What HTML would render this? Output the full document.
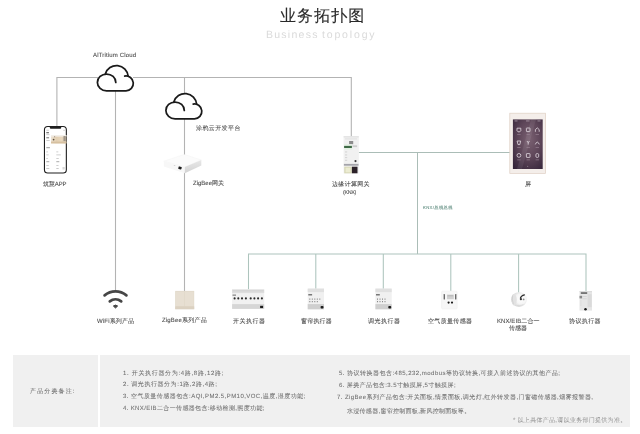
<!DOCTYPE html>
<html><head><meta charset="utf-8">
<style>
html,body{margin:0;padding:0;background:#fff;}
body{width:640px;height:434px;position:relative;overflow:hidden;font-family:"Liberation Sans",sans-serif;color:#333;}
.t{position:absolute;white-space:nowrap;line-height:1;will-change:transform;text-rendering:geometricPrecision;}
.lb{-webkit-text-stroke:0.08px #4a4a4a;}
.note{-webkit-text-stroke:0.05px #6c6c6c;}
svg.g{position:absolute;left:0;top:0;}
.lb{font-size:6px;color:#4a4a4a;}
.panel{position:absolute;top:355px;height:71.5px;background:#f0f0f0;}
.note{font-size:6px;color:#6c6c6c;}
</style></head>
<body>
<svg class="g" width="640" height="434" viewBox="0 0 640 434">
 <defs>

  <linearGradient id="scr" x1="0" y1="0" x2="1" y2="1">
   <stop offset="0" stop-color="#4a3447"/><stop offset="0.5" stop-color="#6a4f64"/><stop offset="1" stop-color="#3b2a3a"/>
  </linearGradient>
  <linearGradient id="gwside" x1="0" y1="0" x2="0" y2="1">
   <stop offset="0" stop-color="#e8e8e8"/><stop offset="1" stop-color="#d2d2d2"/>
  </linearGradient>
 </defs>
 <!-- gray lines -->
 <g stroke="#b3b3b3" stroke-width="1.1" fill="none">
  <path d="M56.9 126 V77.5 H351.3 V137"/>
  <path d="M115.5 82 V290"/>
  <path d="M184.5 77.5 V155"/>
  <path d="M184.5 172.5 V291"/>
 </g>
 <!-- green lines -->
 <g stroke="#abbdb7" stroke-width="1.05" fill="none">
  <path d="M358.8 152.5 H510"/>
  <path d="M417.5 152.5 V254"/>
 </g>
 <g stroke="#adc4bd" stroke-width="1.05" fill="none">
  <path d="M248.5 289.5 V253.9 H586 V291"/>
  <path d="M315.8 253.9 V289"/>
  <path d="M383.3 253.9 V289"/>
  <path d="M450.8 253.9 V291"/>
  <path d="M518.6 253.9 V292.5"/>
 </g>
 <!-- clouds -->
 <rect x="98" y="66" width="35" height="24" fill="#fff"/>
 <g transform="translate(96.5 64)" fill="none" stroke="#1a1a1a" stroke-width="1.75" stroke-linecap="round" stroke-linejoin="round">
   <path d="M28.2 12.1 A7.4 7.4 0 1 1 29.5 26.8 H10.1 A9.2 8.4 0 1 1 19.3 18.4"/>
   <path d="M8.8 10 A11.7 11.7 0 0 1 31.7 12.3"/>
  </g>
 <rect x="166" y="94" width="35" height="24" fill="#fff"/>
 <g transform="translate(165 92)" fill="none" stroke="#1a1a1a" stroke-width="1.75" stroke-linecap="round" stroke-linejoin="round">
   <path d="M28.2 12.1 A7.4 7.4 0 1 1 29.5 26.8 H10.1 A9.2 8.4 0 1 1 19.3 18.4"/>
   <path d="M8.8 10 A11.7 11.7 0 0 1 31.7 12.3"/>
  </g>

 <!-- phone -->
 <rect x="44.45" y="126.45" width="21.9" height="46.5" rx="3.3" fill="#fff" stroke="#1e1e1e" stroke-width="1.1"/>
 <path d="M49.8 126.4 H61.2 V127.8 Q61.2 128.8 60.2 128.8 H50.8 Q49.8 128.8 49.8 127.8Z" fill="#1e1e1e"/>
 <g fill="#c4c4c4">
  <rect x="46.3" y="129.8" width="2.5" height="0.8"/>
  <rect x="63.2" y="129.8" width="1.8" height="0.8"/>
  <rect x="46.3" y="132" width="2.6" height="1.3" fill="#777"/>
  <rect x="46.3" y="134.3" width="3.2" height="0.8"/>
  <rect x="46.3" y="137" width="2.8" height="1.4" fill="#9a9a9a"/>
  <rect x="46.3" y="140" width="3.4" height="0.8"/>
  <rect x="46.3" y="147.2" width="3.6" height="1" fill="#999"/>
  <rect x="46.3" y="151.5" width="1.6" height="0.8"/>
  <rect x="56.3" y="151.5" width="2" height="0.8"/>
  <rect x="46.3" y="154.5" width="2.4" height="0.8"/>
  <rect x="56.3" y="154.5" width="4.5" height="0.8"/>
  <rect x="46.3" y="158" width="1.6" height="0.8"/>
  <rect x="56.3" y="158.2" width="2.5" height="0.8"/>
  <rect x="46.3" y="161.2" width="3" height="1" fill="#aaa"/>
  <rect x="56.3" y="161.2" width="3" height="1" fill="#aaa"/>
  <rect x="46.3" y="165" width="2.5" height="0.8"/>
  <rect x="56.3" y="165" width="2.2" height="0.8"/>
  <rect x="46.3" y="168" width="3" height="0.9"/>
  <rect x="56.3" y="168" width="2.4" height="0.9"/>
  <rect x="62.5" y="167" width="2.2" height="2.5" fill="#d8d8d8"/>
 </g>
 <defs><linearGradient id="photo" x1="0" y1="0" x2="1" y2="0">
  <stop offset="0" stop-color="#ece2d3"/><stop offset="0.35" stop-color="#e2cfb2"/><stop offset="0.7" stop-color="#e8d7bd"/><stop offset="1" stop-color="#c9bca8"/>
 </linearGradient></defs>
 <rect x="51" y="135" width="15.4" height="8.4" fill="url(#photo)"/>
 <rect x="51" y="135" width="15.4" height="1.6" fill="#f3efe9"/>
 <circle cx="53.6" cy="139.6" r="0.9" fill="#5d4d3c"/>
 <circle cx="54.7" cy="136.8" r="0.5" fill="#7a6a58"/>
 <rect x="51" y="141.6" width="15.4" height="1.8" fill="#d6c0a0"/>
 <rect x="63.5" y="136" width="2.2" height="5" fill="#9f9588"/>
 <!-- zigbee gateway -->
 <polygon points="163.8,161.2 184.3,154.4 201.3,160 184.8,167" fill="#fbfbfb" stroke="#f0f0f0" stroke-width="0.4"/>
 <polygon points="163.8,161.2 184.8,167 184.8,173.2 163.8,166.6" fill="#f7f7f7"/>
 <polygon points="184.8,167 201.3,160 201.3,165.6 184.8,173.2" fill="url(#gwside)"/>
 <rect x="178.4" y="166.6" width="3.2" height="2.7" rx="0.6" fill="#1e1e1e" transform="rotate(15 180 168)"/>
 <rect x="173.8" y="165.2" width="1.5" height="0.8" fill="#cfcfcf"/>

 <!-- KNX edge gateway -->
 <rect x="343.6" y="136.2" width="15.2" height="37.2" fill="#f1f1f1"/>
 <rect x="343.6" y="136.2" width="15.2" height="1.2" fill="#e2e2e2"/>
 <rect x="345" y="138.6" width="12" height="0.7" fill="#dadada"/>
 <rect x="349.1" y="141" width="4.1" height="3.2" fill="#8c8c8c"/>
 <rect x="344.2" y="144.3" width="8" height="5.4" fill="#e3efe3"/>
 <rect x="344.1" y="145.9" width="7.8" height="2.1" fill="#3f6a46"/>
 <rect x="352.5" y="145.3" width="4.6" height="1.8" fill="#cdcdcd"/>
 <g fill="#d0d0d0"><rect x="345" y="151.5" width="2.2" height="0.9"/><rect x="345" y="154.5" width="2.2" height="0.9"/><rect x="345" y="157.2" width="2.2" height="0.9"/><rect x="345" y="159.8" width="2.2" height="0.9"/></g>
 <circle cx="355.5" cy="161.1" r="1.1" fill="#3a3a3a"/>
 <rect x="343.9" y="163.9" width="14.6" height="1.8" fill="#a4a4aa"/>
 <rect x="344.3" y="166.7" width="7.4" height="6.6" fill="#d6d6b4"/>
 <rect x="345.5" y="167.6" width="5" height="4.8" fill="#ececd2"/>
 <rect x="351.9" y="166.7" width="5.6" height="6.6" fill="#2b2128"/>
 <!-- screen -->
 <defs><radialGradient id="scr2" cx="0.55" cy="0.4" r="0.75">
  <stop offset="0" stop-color="#7a6172"/><stop offset="0.5" stop-color="#5e4659"/><stop offset="1" stop-color="#35253a"/>
 </radialGradient></defs>
 <rect x="509.8" y="113.2" width="35.8" height="60.2" fill="#f4eeea" stroke="#dfcfc4" stroke-width="0.7"/>
 <rect x="512.9" y="119.4" width="29.8" height="49.6" fill="url(#scr2)"/>
 <polygon points="531,119.4 536,119.4 522,169 517,169" fill="#ffffff" opacity="0.07"/>
 <g fill="#b9a9b6"><rect x="514.5" y="120.6" width="3" height="0.7"/><rect x="526" y="120.6" width="3.5" height="0.7"/><rect x="537.5" y="120.6" width="3" height="0.7"/></g>
 <g fill="none" stroke="#ddd3dc" stroke-width="0.85">
  <path d="M517 128.2 H520.8 V130.8 L519.8 131.8 H518 L517 130.8Z"/>
  <rect x="526.4" y="128" width="3.6" height="3.6" rx="0.4"/>
  <path d="M535.4 131.8 V129.6 L537.3 127.9 L539.2 129.6 V131.8"/>
  <path d="M517.1 141 H520.7 L519.8 144.6 H518Z"/>
  <path d="M527 141 L528.2 142.8 L529.4 141 M528.2 142.8 V144.6"/>
  <path d="M535.3 144.4 Q537.3 139.8 539.3 144.4"/>
  <circle cx="518.9" cy="155.4" r="1.9"/>
  <rect x="526.4" y="153.6" width="3.6" height="3.8" rx="0.4"/>
  <rect x="535.9" y="153.6" width="2.8" height="3.8" rx="1.1"/>
 </g>
 <g fill="#9d8898">
  <rect x="517.2" y="134" width="3.4" height="0.6"/><rect x="526.5" y="134" width="3.4" height="0.6"/><rect x="535.6" y="134" width="3.4" height="0.6"/>
  <rect x="517.2" y="147" width="3.4" height="0.6"/><rect x="526.5" y="147" width="3.4" height="0.6"/><rect x="535.6" y="147" width="3.4" height="0.6"/>
  <rect x="517.2" y="159.6" width="3.4" height="0.6"/><rect x="526.5" y="159.6" width="3.4" height="0.6"/><rect x="535.6" y="159.6" width="3.4" height="0.6"/>
 </g>
 <circle cx="527.7" cy="166.3" r="0.6" fill="#8d7a8a"/>
 <!-- wifi -->
 <g fill="none" stroke="#464646" stroke-width="2.7" stroke-linecap="round">
  <path d="M104.57 295.38 A17.0 17.0 0 0 1 126.43 295.38"/>
  <path d="M109.77 301.33 A9.1 9.1 0 0 1 121.23 301.33"/>
 </g>
 <path d="M115.5 308.00 L113.36 306.02 A3.2 3.2 0 0 1 117.64 306.02 Z" fill="#464646" stroke="#464646" stroke-width="1" stroke-linejoin="round"/>
 <!-- zigbee panel -->
 <rect x="175.2" y="290.9" width="19" height="18.3" fill="#e2d9ca"/>
 <rect x="175.8" y="291.6" width="17.8" height="14.6" fill="#e7dfd2"/>
 <rect x="184.3" y="291.6" width="0.5" height="14.6" fill="#ddd4c5"/>
 <rect x="175.2" y="306.4" width="19" height="2.8" fill="#dbd1c1"/>
 <!-- switch actuator -->
 <rect x="232.1" y="289.4" width="32.1" height="19.5" fill="#f1f1f1"/>
 <rect x="232.1" y="289.4" width="32.1" height="3.7" fill="#dedede"/>
 <rect x="232.5" y="290.6" width="31.3" height="0.6" fill="#c9c9c9"/>
 <rect x="232.5" y="294.5" width="3.5" height="1.3" fill="#8a8a8a"/>
 <g fill="#2a2a2a">
  <circle cx="234.6" cy="298.4" r="1.05"/><circle cx="238.3" cy="298.4" r="1.05"/><circle cx="242" cy="298.4" r="1.05"/><circle cx="245.9" cy="298.4" r="1.05"/>
  <circle cx="250.7" cy="298.4" r="1.05"/><circle cx="254.4" cy="298.4" r="1.05"/><circle cx="258.1" cy="298.4" r="1.05"/><circle cx="261.9" cy="298.4" r="1.05"/>
 </g>
 <rect x="232.1" y="304.1" width="32.1" height="4.8" fill="#d6d6d6"/>
 <rect x="260.1" y="305.8" width="3" height="2.3" fill="#1e1e1e"/>

 <!-- curtain actuator -->
 <rect x="307.7" y="288.6" width="16.3" height="20.7" fill="#f0f0f0"/>
 <rect x="307.7" y="288.6" width="16.3" height="3.5" fill="#e0e0e0"/>
 <rect x="308.3" y="294" width="3.8" height="1.5" fill="#777"/>
 <g fill="#6e6e6e">
  <rect x="309.3" y="298.6" width="1" height="1"/><rect x="311.8" y="298.6" width="1" height="1"/><rect x="314.3" y="298.6" width="1" height="1"/><rect x="316.8" y="298.6" width="1" height="1"/><rect x="319.3" y="298.6" width="1" height="1"/>
  <rect x="309.3" y="301.2" width="1" height="1"/><rect x="311.8" y="301.2" width="1" height="1"/><rect x="314.3" y="301.2" width="1" height="1"/><rect x="316.8" y="301.2" width="1" height="1"/>
 </g>
 <rect x="307.7" y="304.1" width="16.3" height="5.2" fill="#cfcfcf"/>
 <rect x="320.6" y="306" width="2.9" height="2.5" rx="0.8" fill="#1e1e1e"/>

 <!-- dimmer actuator -->
 <rect x="375.4" y="288.6" width="16.3" height="20.7" fill="#f0f0f0"/>
 <rect x="375.4" y="288.6" width="16.3" height="3.5" fill="#e0e0e0"/>
 <rect x="376" y="294" width="3.8" height="1.5" fill="#777"/>
 <g fill="#6e6e6e">
  <rect x="377" y="298.6" width="1" height="1"/><rect x="379.5" y="298.6" width="1" height="1"/><rect x="382" y="298.6" width="1" height="1"/><rect x="384.5" y="298.6" width="1" height="1"/>
  <rect x="377" y="301.2" width="1" height="1"/><rect x="379.5" y="301.2" width="1" height="1"/><rect x="382" y="301.2" width="1" height="1"/><rect x="384.5" y="301.2" width="1" height="1"/>
 </g>
 <rect x="375.4" y="304.1" width="16.3" height="5.2" fill="#cfcfcf"/>
 <rect x="388.3" y="306" width="2.9" height="2.5" rx="0.8" fill="#1e1e1e"/>

 <!-- air quality sensor -->
 <rect x="441.6" y="291" width="15.6" height="18" rx="1" fill="#f7f7f7" stroke="#ececec" stroke-width="0.5"/>
 <rect x="443.6" y="294" width="1.4" height="5.5" rx="0.6" fill="#6a6a6a"/>
 <rect x="455" y="294" width="1.4" height="5.5" rx="0.6" fill="#6a6a6a"/>
 <rect x="447" y="294.6" width="6.8" height="4.6" fill="#d0d0d0"/>
 <rect x="447.6" y="295.3" width="5.6" height="1" fill="#b5b5b5"/>
 <circle cx="448.6" cy="302.6" r="1.1" fill="#1e1e1e"/>
 <circle cx="452" cy="302.6" r="1.1" fill="#1e1e1e"/>

 <!-- KNX/EIB sensor -->
 <defs><radialGradient id="dome" cx="0.62" cy="0.45" r="0.6">
  <stop offset="0" stop-color="#ffffff"/><stop offset="0.55" stop-color="#f6f6f6"/><stop offset="1" stop-color="#d4d4d4"/>
 </radialGradient></defs>
 <ellipse cx="519" cy="299.6" rx="7.9" ry="7.4" fill="url(#dome)"/>
 <ellipse cx="514.2" cy="299.8" rx="2.6" ry="5.8" fill="#e2e2e2"/>
 <path d="M512.6 295.5 Q511.8 300 513.4 304.2" fill="none" stroke="#cfcfcf" stroke-width="0.9"/>
 <path d="M520.4 298.2 Q521 295.8 524.4 294.9" fill="none" stroke="#2e2e2e" stroke-width="1.2" stroke-linecap="round"/>
 <circle cx="520.9" cy="299.2" r="1.1" fill="#3a3a3a"/>
 <circle cx="523.6" cy="299.4" r="0.9" fill="#8a8a8a"/>
 <path d="M517 305.5 Q520 306.5 523.5 304.6" fill="none" stroke="#d8d8d8" stroke-width="0.8"/>
 <!-- protocol actuator -->
 <rect x="579.5" y="291" width="12.5" height="19.6" fill="#e6e6e6"/>
 <rect x="579.5" y="291" width="12.5" height="1.2" fill="#dcdcdc"/>
 <rect x="580.8" y="292.3" width="6.4" height="1.5" fill="#5a5a5a"/>
 <rect x="579.5" y="295.8" width="2.6" height="2.6" fill="#8a8a8a"/>
 <rect x="580" y="300" width="1.6" height="6" fill="#e0e0e0"/>
 <rect x="587.6" y="294.2" width="4" height="13" fill="#dadada"/>
 <rect x="582.5" y="296" width="4.2" height="0.7" fill="#cfcfcf"/>
 <rect x="582.5" y="298.5" width="4.2" height="0.7" fill="#cfcfcf"/>
 <circle cx="585.5" cy="309.3" r="1.25" fill="#1a1a1a"/>
</svg>
<div class="panel" style="left:13px;width:84.5px;"></div>
<div class="panel" style="left:99.5px;width:530.5px;"></div>
<div class="t" style="left:279.94px;top:8.60px;letter-spacing:1.08px;font-size:16px;color:#2a2a2a;-webkit-text-stroke:0.12px #2a2a2a;">业务拓扑图</div>
<div class="t" style="left:265.98px;top:30.44px;letter-spacing:1.26px;font-size:10.5px;color:#dadada;">Business</div>
<div class="t" style="left:321.58px;top:30.44px;letter-spacing:1.84px;font-size:10.5px;color:#dadada;">topology</div>
<div class="t lb" style="left:93.20px;top:52.70px;letter-spacing:0.17px;">AlTritium Cloud</div>
<div class="t lb" style="left:195.80px;top:125.70px;letter-spacing:0.40px;">涂鸦云开发平台</div>
<div class="t lb" style="left:42.65px;top:182.00px;letter-spacing:-0.10px;">筑慧APP</div>
<div class="t lb" style="left:193.20px;top:181.40px;">ZigBee网关</div>
<div class="t lb" style="left:332.10px;top:182.40px;letter-spacing:0.32px;">边缘计算网关</div>
<div class="t lb" style="left:343.26px;top:191.04px;letter-spacing:-0.36px;font-size:5.4px;">(KNX)</div>
<div class="t lb" style="left:524.60px;top:181.80px;">屏</div>
<div class="t" style="left:423.40px;top:206.30px;letter-spacing:0.40px;font-size:4.2px;color:#6a9488;-webkit-text-stroke:0.1px #6a9488;">KNX/总线总线</div>
<div class="t lb" style="left:96.90px;top:319.00px;letter-spacing:0.17px;">WiFi系列产品</div>
<div class="t lb" style="left:162.40px;top:318.20px;letter-spacing:0.18px;">ZigBee系列产品</div>
<div class="t lb" style="left:232.50px;top:319.00px;letter-spacing:0.50px;">开关执行器</div>
<div class="t lb" style="left:300.60px;top:319.00px;letter-spacing:0.20px;">窗帘执行器</div>
<div class="t lb" style="left:367.50px;top:319.00px;letter-spacing:0.50px;">调光执行器</div>
<div class="t lb" style="left:428.35px;top:319.00px;letter-spacing:0.33px;">空气质量传感器</div>
<div class="t lb" style="left:497.00px;top:318.50px;letter-spacing:0.09px;">KNX/EIB二合一</div>
<div class="t lb" style="left:509.00px;top:326.20px;">传感器</div>
<div class="t lb" style="left:569.40px;top:319.00px;letter-spacing:0.40px;">协议执行器</div>
<div class="t note" style="left:30.00px;top:389.35px;letter-spacing:1.13px;">产品分类备注:</div>
<div class="t note" style="left:123.08px;top:370.70px;letter-spacing:0.68px;">1. 开关执行器分为:4路,8路,12路;</div>
<div class="t note" style="left:123.08px;top:382.34px;letter-spacing:0.55px;">2. 调光执行器分为:1路,2路,4路;</div>
<div class="t note" style="left:123.08px;top:394.14px;letter-spacing:0.45px;">3. 空气质量传感器包含:AQI,PM2.5,PM10,VOC,温度,湿度功能;</div>
<div class="t note" style="left:123.08px;top:406.40px;letter-spacing:0.36px;">4. KNX/EIB二合一传感器包含:移动检测,照度功能;</div>
<div class="t note" style="left:338.96px;top:370.70px;letter-spacing:0.48px;">5. 协议转换器包含:485,232,modbus等协议转换,可接入前述协议的其他产品;</div>
<div class="t note" style="left:338.96px;top:382.82px;letter-spacing:0.40px;">6. 屏类产品包含:3.5寸触摸屏,5寸触摸屏;</div>
<div class="t note" style="left:337.36px;top:394.78px;letter-spacing:0.43px;">7. ZigBee系列产品包含:开关面板,情景面板,调光灯,红外转发器,门窗磁传感器,烟雾报警器,</div>
<div class="t note" style="left:347.02px;top:408.64px;letter-spacing:0.29px;">水浸传感器,窗帘控制面板,新风控制面板等。</div>
<div class="t note" style="left:513.08px;top:417.60px;letter-spacing:0.29px;color:#aaa;">* 以上具体产品,请以业务部门提供为准。</div>
</body></html>
